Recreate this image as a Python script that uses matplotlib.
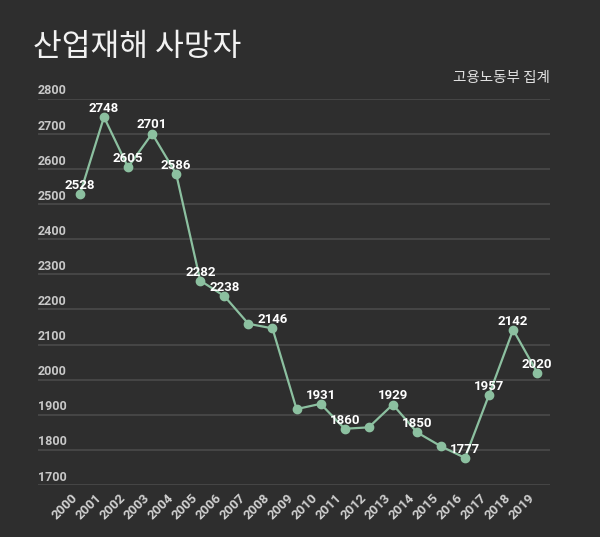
import matplotlib
matplotlib.use("Agg")
import matplotlib.pyplot as plt
import matplotlib.transforms as mtransforms

plt.rcParams['font.family'] = ['Noto Sans CJK KR', 'DejaVu Sans']
num_font = ['Roboto', 'DejaVu Sans']

years = list(range(2000, 2020))
deaths = [2528, 2748, 2605, 2701, 2586, 2282, 2238, 2159, 2146, 1916,
          1931, 1860, 1864, 1929, 1850, 1810, 1777, 1957, 2142, 2020]
# years whose value is written next to the point
labeled = [2000, 2001, 2002, 2003, 2004, 2005, 2006, 2008, 2010, 2011,
           2013, 2014, 2016, 2017, 2018, 2019]
yticks = [1700, 1800, 1900, 2000, 2100, 2200, 2300, 2400, 2500, 2600, 2700, 2800]

bg = '#2e2e2e'
green = '#8cc0a0'

fig = plt.figure(figsize=(6, 5.37), dpi=100, facecolor=bg)
ax = fig.add_axes([0.063, 0.097, 0.854, 0.719], facecolor=bg)

ax.set_xlim(1998.25, 2019.54)
ax.set_ylim(1700, 2800)

# grid lines with labels sitting on top of them
for t in yticks:
    ax.axhline(t, color='#4a4a4a', lw=1.2, zorder=1)
trans = mtransforms.blended_transform_factory(ax.transAxes, ax.transData)
for t in yticks:
    ax.annotate(str(t), xy=(0, t), xycoords=trans, xytext=(0, 1),
                textcoords='offset points', ha='left', va='bottom',
                fontsize=9, fontweight='bold', color='#c8c8c8', family=num_font)

ax.plot(years, deaths, color=green, lw=1.6, zorder=2)
ax.plot(years, deaths, 'o', color=green, ms=6, zorder=3)

for x, y in zip(years, deaths):
    if x in labeled:
        ax.annotate(str(y), xy=(x, y), xytext=(0, 1.5), textcoords='offset points',
                    ha='center', va='bottom', fontsize=9.5, fontweight='bold',
                    color='white', zorder=4, family=num_font)

ax.set_xticks(years)
ax.set_xticklabels([str(y) for y in years], rotation=45, ha='right', va='top',
                   fontsize=9.5, fontweight='bold', color='#d0d0d0', family=num_font)
ax.tick_params(axis='x', length=0, pad=5)
ax.set_yticks([])
for s in ax.spines.values():
    s.set_visible(False)

fig.text(0.055, 0.912, '산업재해 사망자', fontsize=22.5, color='#f2f2f2',
         ha='left', va='center')
fig.text(0.917, 0.855, '고용노동부 집계', fontsize=10.5, color='#e0e0e0',
         ha='right', va='center')

fig.savefig('out.png', dpi=100, facecolor=bg)
